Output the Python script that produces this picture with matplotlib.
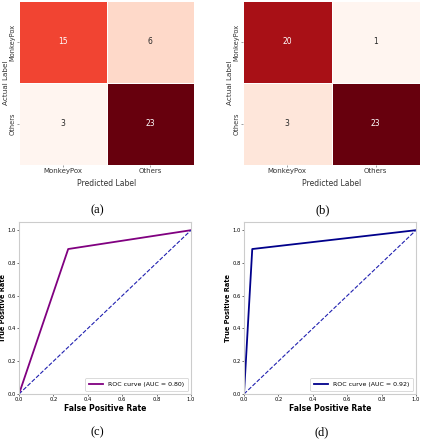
import numpy as np
import matplotlib
matplotlib.use("Agg")
import matplotlib.pyplot as plt
import seaborn as sns

class_names = ["MonkeyPox", "Others"]
cm_a = np.array([[15, 6],
                 [3, 23]])
cm_b = np.array([[20, 1],
                 [3, 23]])

# ROC points (positive class = Others)
fpr_c = [0.0, 0.286, 1.0]
tpr_c = [0.0, 0.885, 1.0]
auc_c = 0.80
fpr_d = [0.0, 0.048, 1.0]
tpr_d = [0.0, 0.885, 1.0]
auc_d = 0.92

W, H = 421, 440
fig = plt.figure(figsize=(W / 100, H / 100), dpi=100)


def box(x0, y0, x1, y1):
    # pixel box -> figure fraction
    return [x0 / W, 1 - y1 / H, (x1 - x0) / W, (y1 - y0) / H]


def draw_cm(ax, cm):
    sns.heatmap(cm, annot=True, fmt="d", cmap="Reds", cbar=False, ax=ax,
                linewidths=0.4, linecolor="white",
                annot_kws={"fontsize": 5.5},
                xticklabels=class_names, yticklabels=class_names)
    ax.tick_params(axis="both", length=1.5, width=0.4, pad=1,
                   color="#555555", labelcolor="#333333")
    ax.set_yticklabels(class_names, rotation=90, va="center", fontsize=4.8)
    ax.set_xticklabels(class_names, rotation=0, fontsize=5)
    ax.set_xlabel("Predicted Label", fontsize=5.5, labelpad=3, color="#333333")
    ax.set_ylabel("Actual Label", fontsize=5.2, color="#333333", labelpad=0.5)


def draw_roc(ax, fpr, tpr, auc, color):
    ax.plot(fpr, tpr, color=color, lw=1.3, label="ROC curve (AUC = %.2f)" % auc)
    ax.plot([0, 1], [0, 1], color="#2020b0", lw=0.8, ls="--")
    ax.set_xlim(0, 1)
    ax.set_ylim(0, 1.05)
    ax.set_xticks(np.arange(0, 1.01, 0.2))
    ax.set_yticks(np.arange(0, 1.01, 0.2))
    ax.tick_params(axis="both", length=1.5, width=0.4, labelsize=3.8, pad=1)
    for s in ax.spines.values():
        s.set_color("#cccccc")
        s.set_linewidth(0.8)
    ax.set_xlabel("False Positive Rate", fontsize=5.5, fontweight="bold", labelpad=1)
    ax.set_ylabel("True Positive Rate", fontsize=4.8, fontweight="bold", labelpad=0.5)
    leg = ax.legend(loc="lower right", fontsize=4.5, handlelength=2.2,
                    borderpad=0.6, framealpha=1)
    leg.get_frame().set_linewidth(0.5)


ax_a = fig.add_axes(box(19, 1, 194, 165))
draw_cm(ax_a, cm_a)
ax_b = fig.add_axes(box(243, 1, 420, 165))
draw_cm(ax_b, cm_b)

ax_c = fig.add_axes(box(19, 222, 191, 394))
draw_roc(ax_c, fpr_c, tpr_c, auc_c, "purple")
ax_d = fig.add_axes(box(244, 222, 416, 394))
draw_roc(ax_d, fpr_d, tpr_d, auc_d, "darkblue")

cap = dict(fontsize=9, family="Liberation Serif", ha="center", va="center")
fig.text(97 / W, 1 - 210 / H, "(a)", **cap)
fig.text(323 / W, 1 - 210 / H, "(b)", **cap)
fig.text(97 / W, 1 - 432 / H, "(c)", **cap)
fig.text(322 / W, 1 - 432 / H, "(d)", **cap)

fig.savefig("out.png", dpi=100)
